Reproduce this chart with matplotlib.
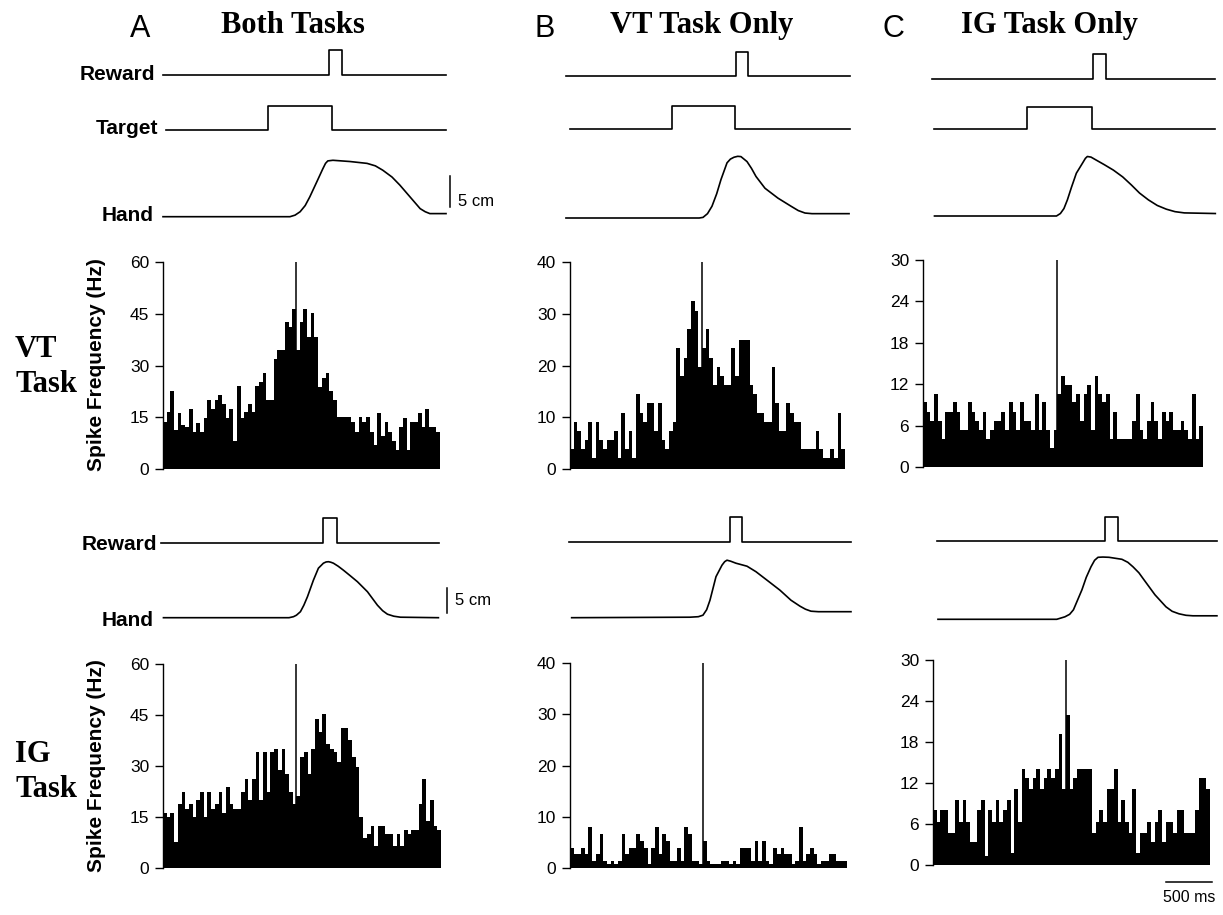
import numpy as np
import matplotlib
matplotlib.use("Agg")
import matplotlib.pyplot as plt

W, H = 1223, 915
SANS = "Liberation Sans"
SERIF = "Liberation Serif"

# PSTH bins: 40 ms, first bin starts 1440 ms before alignment (t = 0)
bin_start = -1440
bin_ms = 40
n_bins = 75

# spike frequency (Hz) per bin, VT task row
vt_both = [13.7, 16.6, 22.6, 11.3, 16.2, 12.8, 12.1, 17.4, 10.8, 13.3,
           10.8, 14.7, 20, 17.3, 20, 21.4, 18.9, 14.7, 17.4, 8.1,
           24, 14.7, 16.5, 18.9, 16.5, 24, 25.3, 27.8, 20, 20,
           31.8, 34.6, 34.6, 42.5, 41.1, 46.4, 34.6, 42.5, 46.4, 38.4,
           45.2, 38.4, 23.9, 26.5, 27.8, 22.7, 20, 15, 15, 15,
           15, 13.7, 10.8, 15, 13.7, 15, 10.8, 7, 16.2, 9.6,
           13.6, 10.8, 8.2, 5.5, 12.3, 14.9, 5.5, 13.6, 13.6, 16.2,
           12.3, 17.4, 12.3, 12.3, 10.8]
vt_vtonly = [3.8, 9.1, 7.3, 3.8, 5.6, 9.1, 2.1, 9.1, 5.6, 3.8,
             5.6, 5.6, 7.3, 2.1, 10.9, 3.8, 7.3, 2.1, 14.5, 10.9,
             9.1, 12.7, 12.7, 7.3, 12.7, 5.6, 3.8, 7.3, 9.1, 23.3,
             17.9, 21.5, 27, 32.4, 30.5, 19.7, 23.3, 27, 21.5, 16.2,
             19.7, 17.9, 16.2, 16.2, 23.3, 17.9, 25, 25, 25, 16.2,
             14.5, 10.9, 10.9, 9.1, 9.1, 19.7, 12.7, 7.3, 7.3, 12.7,
             10.9, 9.1, 9.1, 3.8, 3.8, 3.8, 3.8, 7.3, 3.8, 2.1,
             2.1, 3.8, 2.1, 10.9, 3.8]
vt_igonly = [9.4, 8, 6.7, 10.6, 6.7, 4.1, 8, 8, 9.4, 8,
             5.4, 5.4, 9.4, 8, 6.7, 5.4, 8, 4.1, 5.4, 6.7,
             6.7, 8, 5.4, 9.4, 8, 5.4, 9.4, 6.7, 6.7, 5.4,
             10.6, 5.4, 9.4, 5.4, 2.7, 5.4, 10.6, 13.2, 11.9, 11.9,
             9.4, 10.6, 6.7, 10.6, 11.9, 5.4, 13.2, 10.6, 9.4, 10.6,
             4.1, 8, 4.1, 4.1, 4.1, 4.1, 6.7, 10.6, 5.4, 4.1,
             6.7, 9.4, 6.7, 4.1, 8, 6.7, 8, 5.4, 5.4, 6.7,
             5.4, 4.1, 10.6, 4.1, 6]

# spike frequency (Hz) per bin, IG task row
ig_both = [16.3, 15, 16.3, 7.6, 18.8, 22.5, 17.4, 18.8, 15, 20,
           22.5, 15, 22.5, 17.4, 18.8, 22.5, 16.3, 23.8, 18.8, 17.4,
           17.4, 22.5, 26.2, 20, 26.2, 34, 20, 34, 22.5, 34,
           35, 28.9, 35, 27.6, 22.5, 18.8, 21.2, 32.6, 34, 27.6,
           35, 43.8, 40.1, 45.2, 36.4, 35, 34, 31.3, 41.3, 41.3,
           37.7, 32.6, 29.8, 15, 8.8, 10, 12.5, 6.4, 12.5, 12.5,
           10, 10, 6.4, 10, 6.4, 11.3, 10, 11.3, 11.3, 18.8,
           26.2, 13.7, 20, 12.5, 11.3]
ig_vtonly = [4, 2.7, 2.7, 4, 2.7, 8, 1.4, 2.7, 6.6, 1.4,
             0.8, 1.4, 0.8, 1.4, 6.6, 2.7, 4, 4, 6.6, 5.3,
             4, 0.8, 4, 8, 2.7, 6.6, 5.3, 1.4, 1.4, 4,
             1.4, 8, 6.6, 1.4, 1.4, 0.8, 5.3, 1.4, 0.8, 0.8,
             0.8, 1.4, 1.4, 0.8, 1.4, 0.8, 4, 4, 4, 1.4,
             5.3, 1.4, 5.3, 1.4, 0.8, 4, 2.7, 4, 2.7, 2.7,
             0.8, 1.4, 8, 1.4, 2.7, 4, 2.7, 0.8, 1.4, 1.4,
             2.7, 2.7, 1.4, 1.4, 1.4]
ig_igonly = [8, 6.3, 8, 8, 4.7, 4.7, 9.5, 6.3, 9.5, 6.3,
             3.3, 3.3, 8, 9.5, 1.3, 8, 6.3, 9.5, 6.3, 8,
             9.5, 1.7, 11.1, 6.3, 14.1, 12.7, 11.1, 12.7, 14.1, 11.1,
             12.7, 14.1, 12.7, 14.1, 19.2, 11.1, 22, 11.1, 12.7, 14.1,
             14.1, 14.1, 14.1, 4.7, 6.3, 8, 6.3, 11.1, 11.1, 14.1,
             6.3, 9.5, 6.3, 4.7, 11.1, 1.7, 4.7, 4.7, 6.3, 3.3,
             6.3, 8, 3.3, 6.3, 6.3, 4.7, 8, 8, 4.7, 4.7,
             4.7, 8, 12.7, 12.7, 11.1]

y_max = [60, 40, 30]
y_ticks = [[0, 15, 30, 45, 60], [0, 10, 20, 30, 40], [0, 6, 12, 18, 24, 30]]

# event traces, ms relative to alignment: (trace start, on, off, trace end)
vt_reward = [(-1440, 357, 498, 1625), (-1488, 371, 502, 1615), (-1339, 380, 522, 1692)]
vt_target = [(-1408, -303, 390, 1625), (-1440, -327, 360, 1615), (-1317, -321, 375, 1692)]
ig_reward = [(-1460, 291, 442, 1543), (-1454, 288, 427, 1603), (-1397, 422, 569, 1635)]

# hand position (cm above start) read along time (ms)
vt_hand_t = [
    [-1440, -65, -10, 45, 100, 150, 225, 290, 320, 345, 400, 585, 770, 860, 940, 1040,
     1125, 1235, 1345, 1400, 1450, 1625],
    [-1484, -30, 11, 60, 109, 160, 207, 273, 310, 349, 390, 425, 491, 540, 589, 687,
     829, 971, 1050, 1124, 1200, 1604],
    [-1317, -10, 32, 70, 107, 150, 203, 268, 300, 321, 360, 418, 500, 600, 700, 793,
     880, 975, 1070, 1167, 1260, 1360, 1692],
]
vt_hand = [
    [0, 0, 0.25, 0.8, 1.8, 3.2, 5.6, 7.7, 8.6, 9.0, 9.1, 8.9, 8.6, 8.2, 7.5, 6.4,
     5.1, 3.2, 1.3, 0.8, 0.5, 0.5],
    [0, 0, 0.1, 0.7, 1.9, 3.9, 6.2, 8.9, 9.5, 9.8, 9.95, 9.9, 9.1, 8.0, 6.7, 4.8,
     3.2, 1.9, 1.2, 0.8, 0.7, 0.7],
    [0, 0, 0.4, 1.2, 2.6, 4.6, 6.9, 8.5, 9.3, 9.6, 9.5, 9.0, 8.3, 7.4, 6.3, 5.0,
     3.7, 2.6, 1.7, 1.1, 0.7, 0.5, 0.4],
]
ig_hand_t = [
    [-1435, -80, -32, 0, 43, 80, 119, 183, 237, 291, 320, 345, 370, 399, 450, 507,
     580, 658, 766, 874, 930, 982, 1050, 1122, 1532],
    [-1422, -141, -50, 0, 40, 76, 141, 206, 235, 260, 300, 357, 477, 574, 715, 834,
     953, 1051, 1110, 1170, 1250, 1603],
    [-1386, -100, -11, 40, 81, 173, 220, 271, 310, 347, 400, 466, 606, 670, 726, 790,
     845, 964, 1083, 1150, 1224, 1300, 1375, 1635],
]
ig_hand = [
    [0, 0, 0.2, 0.5, 1.2, 2.5, 4.2, 7.5, 9.9, 10.9, 11.15, 11.2, 11.1, 10.9, 10.3, 9.5,
     8.4, 7.2, 5.2, 2.5, 1.4, 0.7, 0.3, 0.1, 0],
    [0, 0.1, 0.2, 0.5, 1.6, 3.5, 8.2, 10.5, 11.2, 11.5, 11.3, 10.9, 10.3, 9.2, 7.2, 5.5,
     3.5, 2.3, 1.7, 1.3, 1.2, 1.2],
    [0, 0, 0.5, 1.0, 1.9, 5.9, 8.4, 10.5, 11.8, 12.4, 12.45, 12.4, 12.0, 11.4, 10.5, 9.3,
     7.9, 4.9, 2.5, 1.6, 1.1, 0.8, 0.7, 0.7],
]

col_letters = ["A", "B", "C"]
col_titles = ["Both Tasks", "VT Task Only", "IG Task Only"]

# ---- layout (pixels) ----
hist_top_box = [(163, 262, 440, 469), (570, 262, 845, 469), (923, 260, 1203, 467)]
hist_bot_box = [(163, 664, 441, 868), (570, 663, 847, 868), (933, 660, 1210, 865)]
vt_reward_px = [(75, 50), (76, 52), (79, 54)]
vt_target_px = [(130, 106), (129, 106), (129, 107)]
vt_hand_base = [216.7, 218, 216]
ig_reward_px = [(542.7, 518), (541.7, 516.7), (541, 516.7)]
ig_hand_base = [617.7, 617.7, 619.3]
vt_px_cm, ig_px_cm = 6.2, 5.0
vt_hand_top, ig_hand_top = 10, 13

XLIM = (bin_start, bin_start + n_bins * bin_ms)
LW = 1.2

fig = plt.figure(figsize=(W / 100, H / 100), dpi=100)


def add_px_axes(left, top, right, bottom):
    return fig.add_axes([left / W, 1 - bottom / H, (right - left) / W, (bottom - top) / H])


def ftext(x, y, s, **kw):
    fig.text(x / W, 1 - y / H, s, **kw)


def hist_panel(box, values, ymax, ticks):
    ax = add_px_axes(*box)
    left = bin_start + bin_ms * np.arange(len(values))
    ax.bar(left, values, width=bin_ms, align="edge", color="black", linewidth=0)
    ax.plot([0, 0], [0, ymax], color="black", lw=1.1)
    ax.set_xlim(*XLIM)
    ax.set_ylim(0, ymax)
    ax.set_yticks(ticks)
    ax.set_yticklabels([str(t) for t in ticks], fontfamily=SANS, fontsize=12.5)
    ax.set_xticks([])
    for s in ["top", "right", "bottom"]:
        ax.spines[s].set_visible(False)
    ax.spines["left"].set_linewidth(1.0)
    ax.tick_params(axis="y", direction="out", length=6, width=1.0, pad=4)
    return ax


def step_trace(box, base, top, ev):
    ax = add_px_axes(box[0], top, box[2], base)
    start, on, off, end = ev
    ax.plot([start, on, on, off, off, end], [0, 0, 1, 1, 0, 0], color="black", lw=LW, clip_on=False)
    ax.set_xlim(*XLIM)
    ax.set_ylim(0, 1)
    ax.axis("off")
    return ax


def hand_trace(box, base, px_cm, ytop, t, pos):
    ax = add_px_axes(box[0], base - px_cm * ytop, box[2], base)
    ax.plot(t, pos, color="black", lw=LW, clip_on=False, solid_joinstyle="round")
    ax.set_xlim(*XLIM)
    ax.set_ylim(0, ytop)
    ax.axis("off")
    return ax


vt_rows = [vt_both, vt_vtonly, vt_igonly]
ig_rows = [ig_both, ig_vtonly, ig_igonly]

for i in range(3):
    # VT task block
    step_trace(hist_top_box[i], *vt_reward_px[i], vt_reward[i])
    step_trace(hist_top_box[i], *vt_target_px[i], vt_target[i])
    hv = hand_trace(hist_top_box[i], vt_hand_base[i], vt_px_cm, vt_hand_top, vt_hand_t[i], vt_hand[i])
    hist_panel(hist_top_box[i], vt_rows[i], y_max[i], y_ticks[i])
    # IG task block
    step_trace(hist_bot_box[i], *ig_reward_px[i], ig_reward[i])
    hi = hand_trace(hist_bot_box[i], ig_hand_base[i], ig_px_cm, ig_hand_top, ig_hand_t[i], ig_hand[i])
    axb = hist_panel(hist_bot_box[i], ig_rows[i], y_max[i], y_ticks[i])
    if i == 0:
        # 5 cm scale bars
        hv.plot([1668, 1668], [1.55, 6.55], color="black", lw=1.1, clip_on=False)
        hv.text(1760, 2.4, "5 cm", fontfamily=SANS, fontsize=12, va="center", ha="left")
        hi.plot([1626, 1626], [0.95, 5.95], color="black", lw=1.1, clip_on=False)
        hi.text(1716, 3.5, "5 cm", fontfamily=SANS, fontsize=12, va="center", ha="left")
    if i == 2:
        # 500 ms time scale
        axb.plot([1080, 1580], [-2.5, -2.5], color="black", lw=1.1, clip_on=False)
        axb.text(1330, -4.7, "500 ms", fontfamily=SANS, fontsize=11.5, ha="center", va="center")

# column headings
for x, letter in zip([140, 545, 893], col_letters):
    ftext(x, 37, letter, fontfamily=SANS, fontsize=22, ha="center", va="baseline")
for x, title in zip([293, 702, 1049], col_titles):
    ftext(x, 33, title, fontfamily=SERIF, fontweight="bold", fontsize=22, ha="center", va="baseline")

# trace labels
lab = dict(fontfamily=SANS, fontweight="bold", fontsize=15, ha="right", va="baseline")
ftext(155, 80, "Reward", **lab)
ftext(158, 134, "Target", **lab)
ftext(154, 221, "Hand", **lab)
ftext(157, 550, "Reward", **lab)
ftext(154, 626, "Hand", **lab)

# y labels
for yc in [365, 766]:
    ftext(97, yc, "Spike Frequency (Hz)", fontfamily=SANS, fontweight="bold", fontsize=15,
          rotation=90, ha="center", va="center")

# row labels
row = dict(fontfamily=SERIF, fontweight="bold", fontsize=22, ha="left", va="baseline")
ftext(15, 357, "VT", **row)
ftext(15, 392, "Task", **row)
ftext(15, 762, "IG", **row)
ftext(15, 797, "Task", **row)

fig.savefig("out.png", dpi=100)
